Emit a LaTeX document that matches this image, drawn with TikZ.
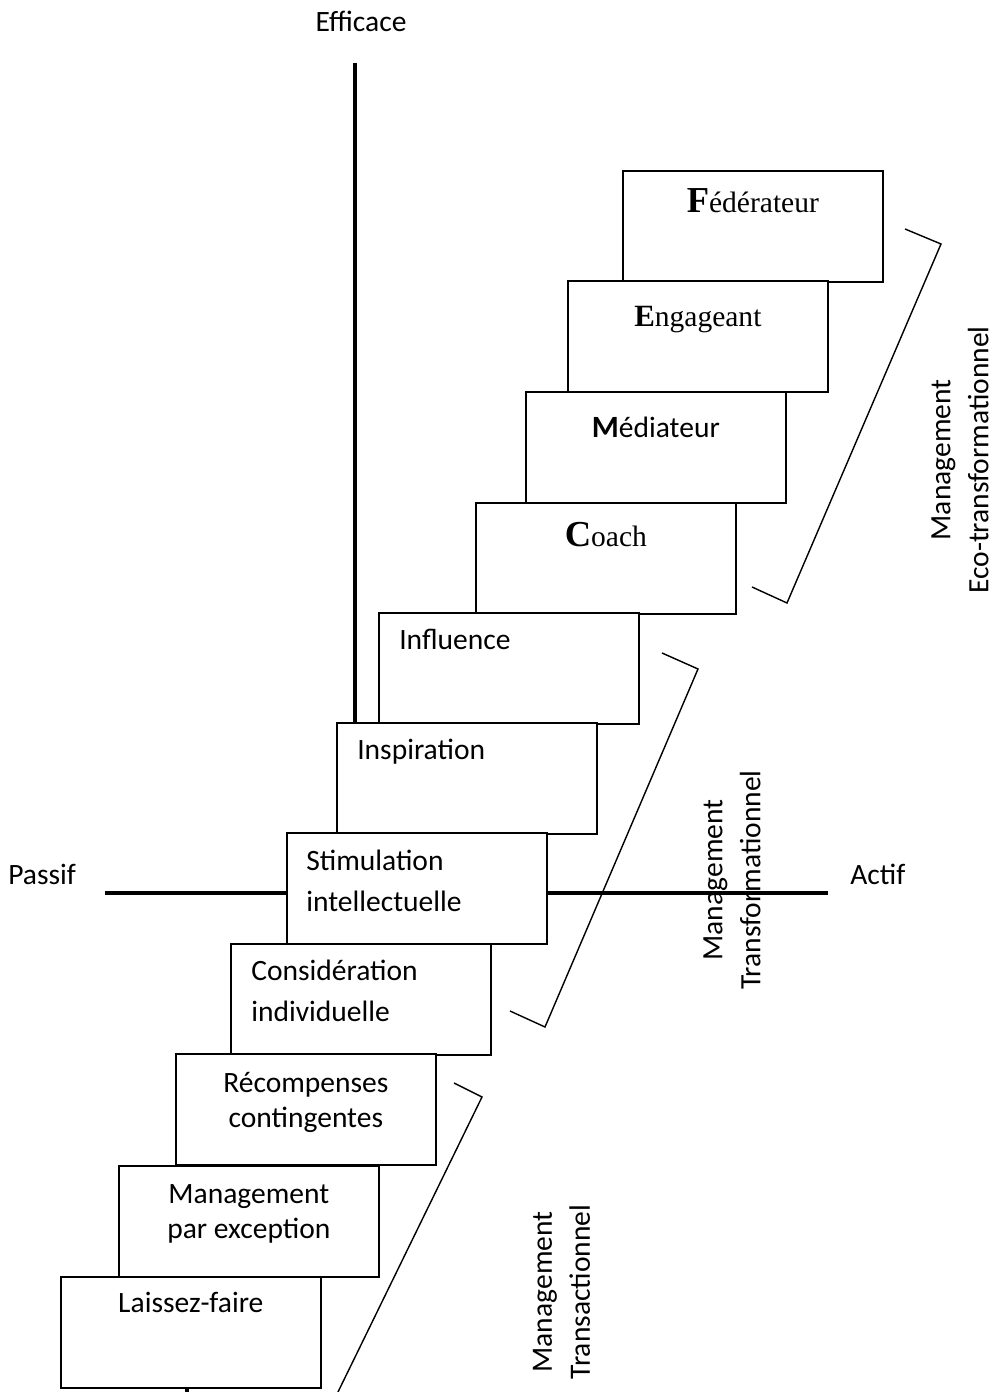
\documentclass[tikz,border=0pt]{standalone}
\usepackage{fontspec}
\setmainfont{Carlito}
\newfontfamily\timesfont{Liberation Serif}
\usetikzlibrary{positioning}

\tikzset{
  stair/.style={draw, fill=white, line width=1.2pt, anchor=north west,
    minimum width=6.5cm, minimum height=2.775cm, inner sep=0pt},
  word/.style={inner sep=0pt, font=\fontsize{21}{25.6}\selectfont},
  wide/.style={inner sep=0pt, font=\fontsize{21}{29.2}\selectfont},
  axe/.style={line width=3.2pt},
  bracket/.style={line width=1pt},
  side/.style={rotate=90, align=center, inner sep=0pt,
    font=\fontsize{21}{27}\selectfont}
}

\begin{document}
\begin{tikzpicture}
  \useasboundingbox (0,0) rectangle (24.875,34.8);

  % axes
  \coordinate (haut) at (8.875,33.225);
  \coordinate (gauche) at (2.625,12.48);
  \coordinate (droite) at (20.7,12.48);
  \coordinate (bas) at (4.675,0);
  \node[word, anchor=base] (efficace) at (9.025,34.0) {Efficace};
  \node[word, anchor=base west] (passif) at (0.2,12.675) {Passif};
  \node[word, anchor=base west] (actif) at (21.25,12.675) {Actif};
  \draw[axe] (gauche) -- (droite);

  % steps
  \node[stair] (feder) at (15.55,30.55) {};
  \node[stair] (engag) at (14.175,27.8) {};
  \node[stair] (media) at (13.125,25.025) {};
  \node[stair] (coach) at (11.875,22.25) {};
  \node[stair] (influ) at (9.45,19.5) {};
  \node[stair] (inspir) at (8.4,16.75) {};
  \node[stair] (stimul) at (7.15,14.0) {};
  \node[stair] (consid) at (5.75,11.225) {};
  \node[stair] (recomp) at (4.375,8.475) {};
  \node[stair] (except) at (2.95,5.675) {};
  \node[stair] (laissez) at (1.5,2.9) {};
  \draw[axe] (haut) -- (inspir.north west -| haut);
  \draw[axe] (laissez.south west -| bas) -- (bas);

  % texts (two lines: base is the last line)
  \node[word, below=1.075cm of feder.north, anchor=base] (t11)
    {\timesfont{\bfseries\fontsize{26}{26}\selectfont F}édérateur};
  \node[word, below=1.175cm of engag.north, anchor=base] (t10)
    {\timesfont{\bfseries\fontsize{22}{22}\selectfont E}ngageant};
  \node[word, below=1.175cm of media.north, anchor=base] (t9)
    {{\bfseries\fontsize{22}{22}\selectfont M}édiateur};
  \node[word, below=1.125cm of coach.north, anchor=base] (t8)
    {\timesfont{\bfseries\fontsize{26}{26}\selectfont C}oach};
  \node[word, below right=0.95cm and 0.525cm of influ.north west, anchor=base west] (t7)
    {Influence};
  \node[word, below right=0.95cm and 0.525cm of inspir.north west, anchor=base west] (t6)
    {Inspiration};
  \node[wide, align=left, below right=2.0cm and 0.5cm of stimul.north west, anchor=base west] (t5)
    {Stimulation\\intellectuelle};
  \node[wide, align=left, below right=1.975cm and 0.525cm of consid.north west, anchor=base west] (t4)
    {Considération\\individuelle};
  \node[word, align=center, below=1.875cm of recomp.north, anchor=base] (t3)
    {Récompenses\\contingentes};
  \node[word, align=center, below=1.85cm of except.north, anchor=base] (t2)
    {Management\\par exception};
  \node[word, below=0.925cm of laissez.north, anchor=base] (t1)
    {Laissez-faire};

  % brackets
  \draw[bracket] (22.625,29.075) -- (23.525,28.7) -- (19.675,19.725) -- (18.8,20.125);
  \draw[bracket] (16.55,18.475) -- (17.45,18.075) -- (13.625,9.125) -- (12.75,9.525);
  \draw[bracket] (11.35,7.725) -- (12.05,7.375) -- (8.45,0);

  \node[side] (eco) at (24.0,23.3) {Management\\Eco-transformationnel};
  \node[side] (transfo) at (18.3,12.8) {Management\\Transformationnel};
  \node[side] (transac) at (14.04,2.5) {Management\\Transactionnel};
\end{tikzpicture}
\end{document}
